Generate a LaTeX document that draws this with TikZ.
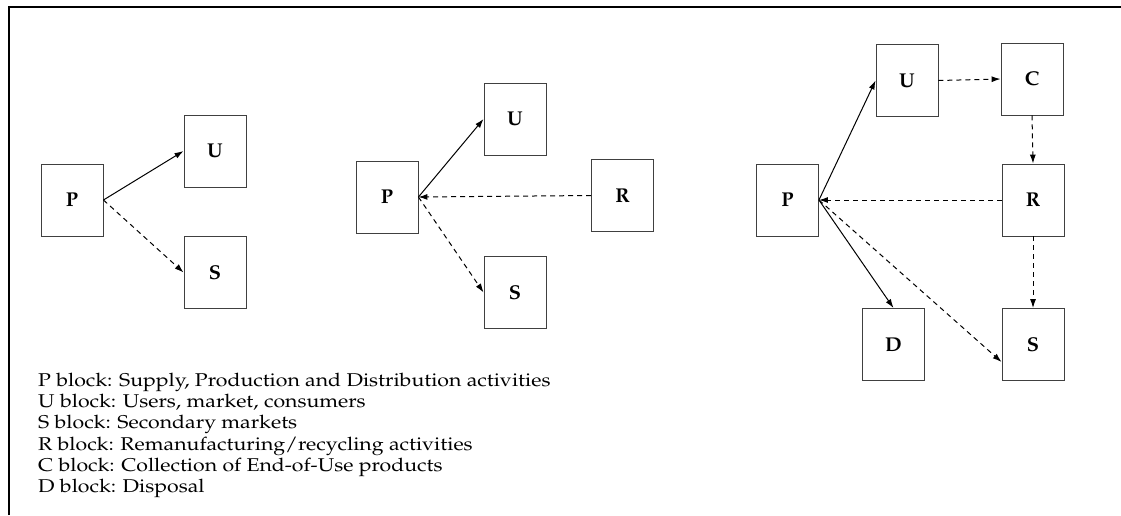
\documentclass[tikz,border=0pt]{standalone}
\usepackage[T1]{fontenc}
\usepackage{graphicx}
\DeclareFontFamily{T1}{pal}{}
\DeclareFontShape{T1}{pal}{m}{n}{<-> pplr8t}{}
\DeclareFontShape{T1}{pal}{b}{n}{<-> pplb8t}{}
\DeclareFontShape{T1}{pal}{bx}{n}{<-> ssub * pal/b/n}{}
\renewcommand{\rmdefault}{pal}
\usetikzlibrary{arrows.meta}
% legend lines are set a little wider than the font
\newcommand{\legline}[1]{\scalebox{1.15}[1]{#1}}

\begin{document}
\begin{tikzpicture}[x=1pt,y=-1pt,
  blk/.style={draw=black!75,line width=0.9pt,minimum width=62pt,minimum height=72pt,inner sep=0pt,font=\fontsize{20}{20}\selectfont\bfseries},
  flow/.style={-{Latex[length=9pt,width=6pt]},line width=1pt},
  back/.style={flow,dashed,dash pattern=on 5pt off 4pt},
  legend/.style={anchor=base west,inner sep=0pt,font=\fontsize{18.5}{21}\selectfont}]
\useasboundingbox (0,0) rectangle (1121,515);
\draw[line width=2pt] (9,515) -- (9,7) -- (1121,7);
% first layout
\node[blk] (P1) at (72,200) {P};
\node[blk] (U1) at (215,151) {U};
\node[blk] (S1) at (215,272.5) {S};
\draw[flow] (P1.east) -- (U1.west);
\draw[back] (P1.east) -- (S1.west);
% second layout
\node[blk] (P2) at (387,197) {P};
\node[blk] (U2) at (515,119) {U};
\node[blk] (R2) at (622.5,195.5) {R};
\node[blk] (S2) at (515,292.5) {S};
\draw[flow] (P2.east) -- (U2.west);
\draw[back] (R2.west) -- (P2.east);
\draw[back] (P2.east) -- (S2.west);
% third layout
\node[blk] (P3) at (787.5,200) {P};
\node[blk] (U3) at (907,80.5) {U};
\node[blk] (C3) at (1032,79) {C};
\node[blk] (R3) at (1033,200) {R};
\node[blk] (D3) at (893.5,344.5) {D};
\node[blk] (S3) at (1033,344.5) {S};
\draw[flow] (P3.east) -- (U3.west);
\draw[flow] (P3.east) -- (D3.north);
\draw[back] (U3.east) -- (C3.west);
\draw[back] (C3.south) -- (R3.north);
\draw[back] (R3.west) -- (P3.east);
\draw[back] (R3.south) -- (S3.north);
\draw[back] (P3.east) -- ([yshift=-17.5pt]S3.west);
% legend
\node[legend] (lp) at (38,386) {\legline{P block: Supply, Production and Distribution activities}};
\node[legend] (lu) at (38,407.3) {\legline{U block: Users, market, consumers}};
\node[legend] (ls) at (38,428.6) {\legline{S block: Secondary markets}};
\node[legend] (lr) at (38,450) {\legline{R block: Remanufacturing/recycling activities}};
\node[legend] (lc) at (38,471.3) {\legline{C block: Collection of End-of-Use products}};
\node[legend] (ld) at (38,492.6) {\legline{D block: Disposal}};
\end{tikzpicture}
\end{document}
